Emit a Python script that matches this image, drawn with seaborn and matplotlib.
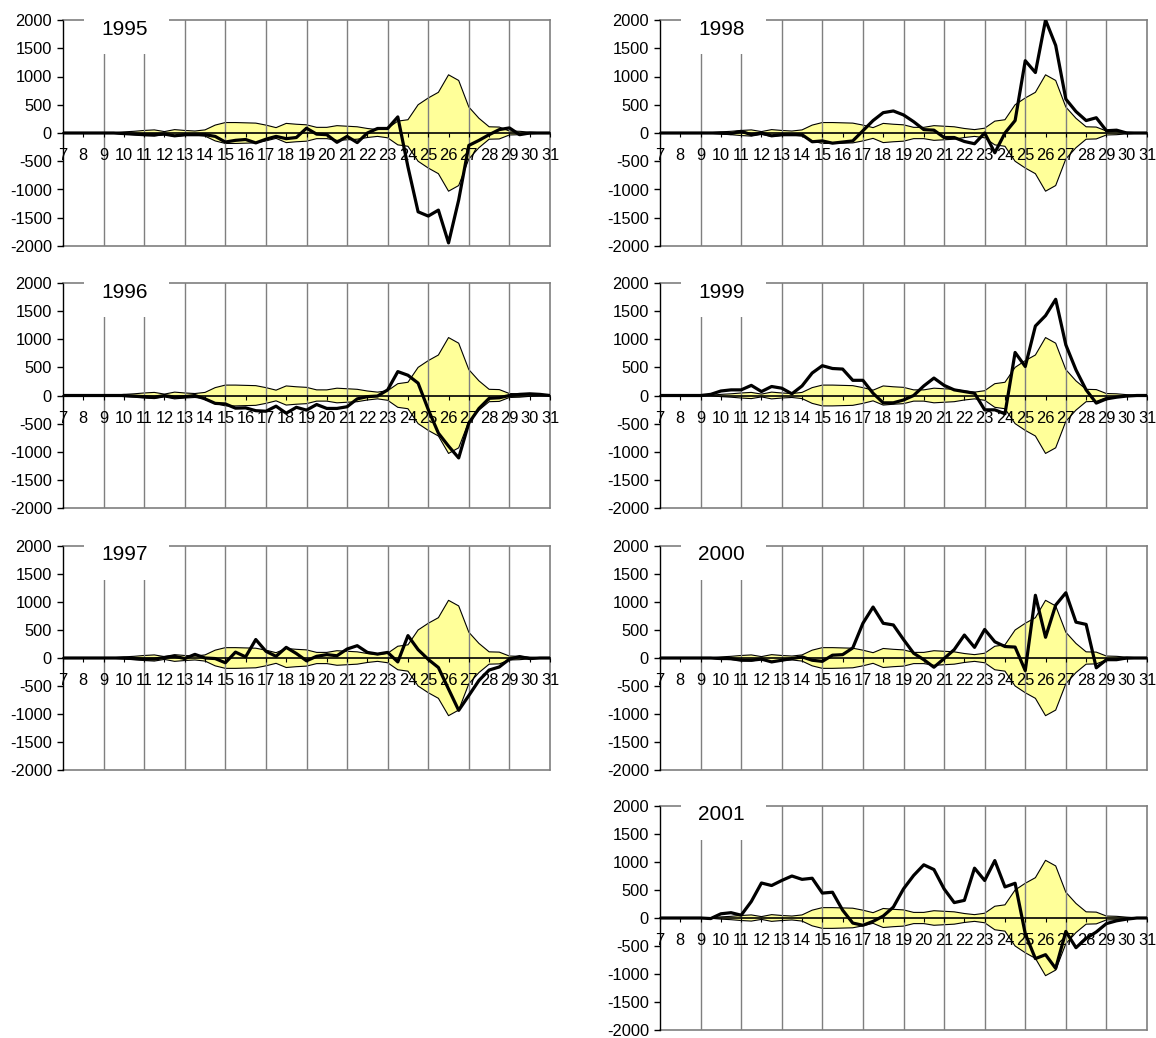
import matplotlib
matplotlib.use("Agg")
import matplotlib.pyplot as plt
import seaborn as sns
import pandas as pd
from matplotlib.patches import Rectangle

# Half-day sampling positions along the category axis
days = [7, 7.5, 8, 8.5, 9, 9.5, 10, 10.5, 11, 11.5, 12, 12.5, 13, 13.5, 14, 14.5,
        15, 15.5, 16, 16.5, 17, 17.5, 18, 18.5, 19, 19.5, 20, 20.5, 21, 21.5, 22, 22.5,
        23, 23.5, 24, 24.5, 25, 25.5, 26, 26.5, 27, 27.5, 28, 28.5, 29, 29.5, 30, 30.5, 31]
day_labels = [str(d) for d in range(7, 32)]
y_ticks = [-2000, -1500, -1000, -500, 0, 500, 1000, 1500, 2000]

# Symmetric band (+/-) shared by every panel
band = [0, 0, 0, 0, 0, 5, 20, 30, 45, 55, 25, 60, 45, 35, 55, 140,
        185, 185, 180, 175, 140, 95, 170, 155, 145, 100, 100, 130, 120, 110, 80, 60,
        85, 210, 235, 500, 620, 720, 1030, 930, 460, 260, 110, 105, 35, 30, 15, 5, 0]

y1995 = [0, 0, 0, 0, 0, 0, -10, -20, -30, -30, -20, -50, -30, -30, -30, -60,
         -160, -130, -115, -175, -110, -60, -100, -80, 85, -20, -30, -165, -60, -170, 0, 80,
         80, 285, -600, -1395, -1470, -1365, -1945, -1185, -220, -130, -30, 60, 90, -30, 0, 0, 0]
y1996 = [0, 0, 0, 0, 0, 0, 0, -10, -20, -30, 0, -30, -20, 0, -60, -140,
         -150, -225, -220, -270, -280, -190, -315, -210, -260, -160, -230, -230, -200, -60, -20, -10,
         100, 425, 360, 220, -250, -670, -900, -1110, -490, -230, -50, -40, 0, 20, 30, 20, 0]
y1997 = [0, 0, 0, 0, 0, 0, 0, -10, -20, -20, 10, 30, -10, 65, 0, -10,
         -85, 105, 20, 330, 120, 30, 190, 80, -50, 30, 60, 40, 160, 220, 100, 70,
         100, -70, 400, 150, -25, -170, -555, -935, -670, -400, -215, -160, -20, 25, -10, 0, 0]
y1998 = [0, 0, 0, 0, 0, 0, 0, -10, 30, -30, 0, -50, -30, -30, -30, -155,
         -140, -180, -160, -140, 40, 220, 360, 390, 320, 200, 60, 50, -80, -80, -150, -190,
         0, -350, 0, 220, 1280, 1070, 2000, 1550, 600, 380, 220, 270, 40, 50, 0, 0, 0]
y1999 = [0, 0, 0, 0, 0, 20, 80, 100, 100, 180, 70, 160, 130, 30, 170, 400,
         530, 480, 470, 270, 270, 40, -130, -130, -80, 0, 170, 310, 180, 100, 70, 40,
         -255, -255, -325, 765, 515, 1235, 1420, 1710, 900, 455, 100, -135, -60, -30, -10, 0, 0]
y2000 = [0, 0, 0, 0, 0, 0, -10, -10, -40, -40, -20, -70, -40, -10, 20, -40,
         -60, 50, 60, 180, 620, 910, 620, 590, 330, 85, -30, -165, -10, 150, 410, 190,
         510, 290, 205, 195, -225, 1120, 370, 945, 1165, 640, 600, -175, -30, -30, 0, 0, 0]
y2001 = [0, 0, 0, 0, 0, -10, 75, 95, 50, 295, 625, 580, 670, 750, 690, 710,
         445, 460, 140, -90, -130, -60, 35, 195, 520, 760, 950, 865, 520, 275, 315, 890,
         670, 1025, 555, 620, -280, -725, -655, -900, -240, -530, -365, -250, -100, -50, -20, 0, 0]

series = {"1995": y1995, "1996": y1996, "1997": y1997,
          "1998": y1998, "1999": y1999, "2000": y2000, "2001": y2001}

# Panel frames in pixels: (left, top, height)
panel_px = {"1995": (63, 20, 226), "1996": (63, 283, 225), "1997": (63, 546, 224),
            "1998": (660, 20, 226), "1999": (660, 283, 225), "2000": (660, 546, 224),
            "2001": (660, 806, 224)}
W, H = 1156, 1038
PW = 487

sns.set_theme(style="white")
plt.rcParams["font.family"] = ["Liberation Sans", "DejaVu Sans"]
plt.rcParams["text.color"] = "black"
plt.rcParams["xtick.color"] = "black"
plt.rcParams["ytick.color"] = "black"

fig = plt.figure(figsize=(W / 100, H / 100), dpi=100)
grid_col = "#7f7f7f"
tick_fs = 11.8

for year, vals in series.items():
    lx, ty, ph = panel_px[year]
    ax = fig.add_axes([lx / W, 1 - (ty + ph) / H, PW / W, ph / H])
    ax.set_axisbelow(False)
    df = pd.DataFrame({"day": days, "value": vals, "band": band})
    neg = [-b for b in band]

    ax.fill_between(df["day"], neg, df["band"], facecolor="#FFFF99",
                    edgecolor="none", zorder=1)
    ax.plot(df["day"], df["band"], color="black", lw=0.8, zorder=1.2)
    ax.plot(df["day"], neg, color="black", lw=0.8, zorder=1.2)

    # vertical gridlines on every other day
    for g in range(9, 31, 2):
        ax.axvline(g, color=grid_col, lw=1.0, zorder=1.5)
    ax.axhline(-2000, color=grid_col, lw=1.2, zorder=1.5, clip_on=False)

    sns.lineplot(data=df, x="day", y="value", ax=ax, color="black",
                 lw=2.3, zorder=5, legend=False)

    ax.set_xlim(7, 31)
    ax.set_ylim(-2000, 2000)
    ax.set_xlabel("")
    ax.set_ylabel("")
    ax.set_yticks(y_ticks)
    ax.set_yticklabels([str(v) for v in y_ticks])
    ax.set_xticks(range(7, 32))
    ax.set_xticklabels(day_labels)

    ax.spines["bottom"].set_position(("data", 0))
    ax.spines["bottom"].set_color("black")
    ax.spines["bottom"].set_linewidth(1.2)
    ax.spines["bottom"].set_zorder(4)
    ax.spines["left"].set_color("black")
    ax.spines["left"].set_linewidth(1.0)
    for s in ("top", "right"):
        ax.spines[s].set_color(grid_col)
        ax.spines[s].set_linewidth(1.2)

    ax.tick_params(axis="y", direction="out", length=4, width=1, color="black",
                   labelcolor="black", labelsize=tick_fs, pad=4, left=True)
    ax.tick_params(axis="x", direction="out", length=3, width=0.8, color="black",
                   labelcolor="black", labelsize=tick_fs, pad=8, bottom=True)
    ax.grid(False)
    ax.set_facecolor("white")

    # title box masks the top border and the first gridlines
    ax.add_patch(Rectangle((8.05, 1390), 4.15, 800, facecolor="white",
                           edgecolor="none", zorder=3, clip_on=False))
    ax.text(10.02, 1840, year, ha="center", va="center", fontsize=15,
            color="black", zorder=6)

fig.savefig("out.png", dpi=100)
